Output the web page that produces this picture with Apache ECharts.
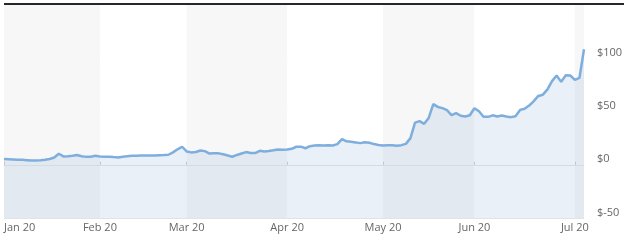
<!DOCTYPE html>
<html>
<head>
<meta charset="utf-8">
<script src="https://cdn.jsdelivr.net/npm/echarts@6/dist/echarts.min.js"></script>
<style>html,body{margin:0;padding:0;background:#fff}#c{width:628px;height:241px}</style>
</head>
<body>
<div id="c"></div>
<script>
// Trading days, Jan 2 2020 – Jul 6 2020
const dates = [
 '2020-01-02','2020-01-03','2020-01-06','2020-01-07','2020-01-08','2020-01-09','2020-01-10','2020-01-13','2020-01-14','2020-01-15','2020-01-16','2020-01-17','2020-01-21','2020-01-22','2020-01-23','2020-01-24','2020-01-27','2020-01-28','2020-01-29','2020-01-30','2020-01-31',
 '2020-02-03','2020-02-04','2020-02-05','2020-02-06','2020-02-07','2020-02-10','2020-02-11','2020-02-12','2020-02-13','2020-02-14','2020-02-18','2020-02-19','2020-02-20','2020-02-21','2020-02-24','2020-02-25','2020-02-26','2020-02-27','2020-02-28',
 '2020-03-02','2020-03-03','2020-03-04','2020-03-05','2020-03-06','2020-03-09','2020-03-10','2020-03-11','2020-03-12','2020-03-13','2020-03-16','2020-03-17','2020-03-18','2020-03-19','2020-03-20','2020-03-23','2020-03-24','2020-03-25','2020-03-26','2020-03-27','2020-03-30','2020-03-31',
 '2020-04-01','2020-04-02','2020-04-03','2020-04-06','2020-04-07','2020-04-08','2020-04-09','2020-04-13','2020-04-14','2020-04-15','2020-04-16','2020-04-17','2020-04-20','2020-04-21','2020-04-22','2020-04-23','2020-04-24','2020-04-27','2020-04-28','2020-04-29','2020-04-30',
 '2020-05-01','2020-05-04','2020-05-05','2020-05-06','2020-05-07','2020-05-08','2020-05-11','2020-05-12','2020-05-13','2020-05-14','2020-05-15','2020-05-18','2020-05-19','2020-05-20','2020-05-21','2020-05-22','2020-05-26','2020-05-27','2020-05-28','2020-05-29',
 '2020-06-01','2020-06-02','2020-06-03','2020-06-04','2020-06-05','2020-06-08','2020-06-09','2020-06-10','2020-06-11','2020-06-12','2020-06-15','2020-06-16','2020-06-17','2020-06-18','2020-06-19','2020-06-22','2020-06-23','2020-06-24','2020-06-25','2020-06-26','2020-06-29','2020-06-30',
 '2020-07-01','2020-07-02','2020-07-06'
];
const values = [
 5.3,5.2,5.0,4.8,4.6,4.3,4.0,4.0,4.2,4.6,5.4,6.8,10.3,7.8,8.0,8.4,9.1,8.0,7.4,7.6,8.4,
 7.8,7.6,7.6,7.2,6.9,7.6,8.0,8.4,8.4,8.6,8.7,8.7,8.6,8.9,9.1,9.4,11.6,14.5,16.9,
 12.5,11.6,12.0,13.4,12.8,10.5,10.9,10.7,9.8,8.7,7.5,9.2,10.6,11.9,11.0,11.0,13.1,12.5,12.9,13.6,14.4,14.2,
 14.4,15.0,16.9,17.0,15.5,17.4,18.0,18.2,18.1,18.3,18.1,19.4,24.1,22.0,21.5,21.0,20.3,21.1,20.6,19.4,18.6,
 18.1,18.3,18.2,17.8,18.4,19.6,25.0,39.5,41.0,38.4,44.0,56.9,54.3,53.2,51.3,46.5,48.4,46.0,45.3,46.5,
 53.1,50.2,45.0,45.0,46.4,45.3,46.2,45.3,44.7,45.5,51.5,52.6,55.6,59.8,64.6,65.8,70.8,78.5,83.8,77.8,84.0,83.8,
 79.7,81.5,108.5
];
const yTicks = [-50, 0, 50, 100, 150];
const monthNames = ['Jan','Feb','Mar','Apr','May','Jun','Jul','Aug','Sep','Oct','Nov','Dec'];

function isMonthStart(i) {
  return i === 0 || dates[i].slice(5, 7) !== dates[i - 1].slice(5, 7);
}
function labelOf(v) {
  return monthNames[parseInt(v.slice(5, 7), 10) - 1] + ' ' + v.slice(2, 4);
}

const chart = echarts.init(document.getElementById('c'));
chart.setOption({
  animation: false,
  grid: { left: 4, right: 44, top: 5, bottom: 23 },
  graphic: [{
    type: 'rect', left: 4, top: 3, z: 100,
    shape: { width: 620, height: 2 },
    style: { fill: '#24272c' }
  }],
  xAxis: {
    type: 'category',
    data: dates,
    boundaryGap: false,
    axisLine: { show: true, lineStyle: { color: '#e6e6e6' } },
    axisTick: { show: true, inside: true, length: 3, interval: (i) => isMonthStart(i), lineStyle: { color: '#cccccc' } },
    axisLabel: {
      interval: (i) => isMonthStart(i),
      formatter: labelOf,
      color: '#666666',
      fontFamily: 'Open Sans',
      fontSize: 11,
      margin: 4,
      alignMinLabel: 'left'
    },
    splitLine: { show: false },
    splitArea: {
      show: true,
      interval: (i) => isMonthStart(i) || i === dates.length - 1,
      areaStyle: { color: ['#f7f7f7', '#ffffff'] }
    }
  },
  yAxis: {
    type: 'value',
    position: 'right',
    min: yTicks[0],
    max: yTicks[yTicks.length - 1],
    interval: 50,
    axisLine: { show: false },
    axisTick: { show: false },
    axisLabel: {
      formatter: (v) => v === 150 ? '' : '$' + v,
      color: '#666666',
      fontFamily: 'Open Sans',
      fontSize: 11,
      margin: 13,
      verticalAlign: 'bottom'
    },
    splitLine: { show: true, lineStyle: { color: '#e2e2e2', width: 1 } }
  },
  series: [{
    type: 'line',
    data: values,
    symbol: 'none',
    smooth: false,
    lineStyle: { color: '#7eaedd', width: 2.5 },
    areaStyle: { origin: 'start', color: 'rgba(120,160,205,0.23)' },
    z: 3
  }]
});
</script>
</body>
</html>
